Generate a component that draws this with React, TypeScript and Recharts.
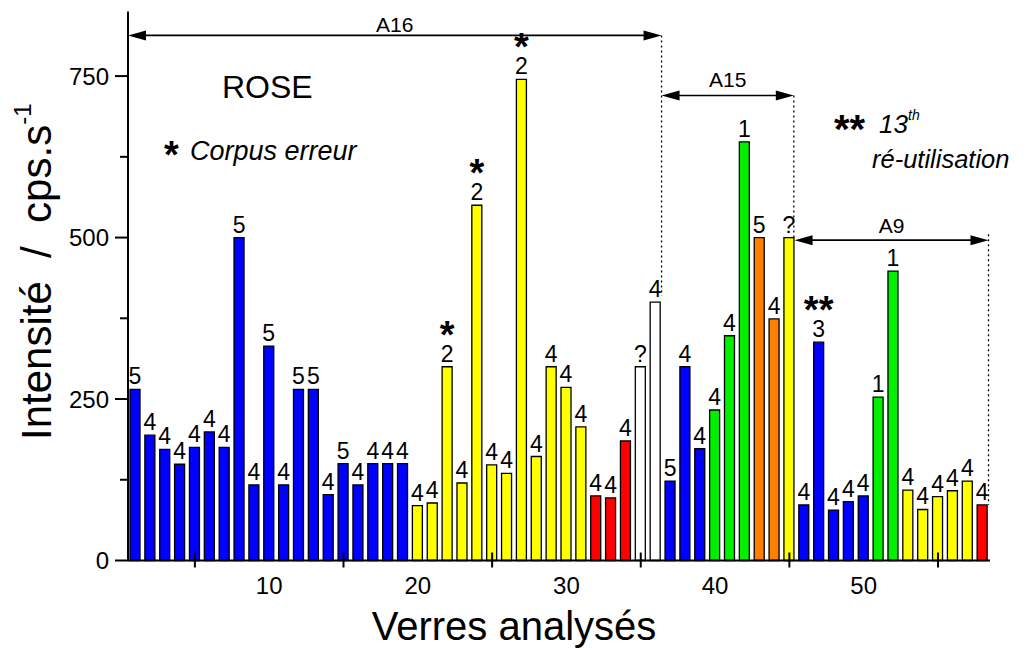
import React from 'react';
import { BarChart, Bar, XAxis, YAxis, Cell, LabelList, ReferenceLine } from 'recharts';

// Glass sample number (x position)
const glassNumbers = [
  1, 2, 3, 4, 5, 6, 7, 8, 9, 10, 11, 12, 13, 14, 15, 16, 17, 18, 19, 20,
  21, 22, 23, 24, 25, 26, 27, 28, 29, 30, 31, 32, 33, 34, 35, 36, 37, 38, 39, 40,
  41, 42, 43, 44, 45, 46, 47, 48, 49, 50, 51, 52, 53, 54, 55, 56, 57, 58,
];

// Intensity (cps.s-1)
const intensities = [
  265, 194, 172, 149, 175, 199, 175, 500, 117, 332, 117, 265, 265, 102, 150, 117, 150, 150, 150,
  85, 89, 300, 120, 550, 148, 135, 745, 161, 300, 268, 207, 100, 97, 185, 300, 400,
  123, 300, 173, 233, 348, 648, 500, 374, 500, 86, 338, 78, 91, 100, 253, 448, 109, 79, 99, 108, 123, 86,
];

// Glass colour class for each bar
const glassClass = [
  'B', 'B', 'B', 'B', 'B', 'B', 'B', 'B', 'B', 'B', 'B', 'B', 'B', 'B', 'B', 'B', 'B', 'B', 'B',
  'Y', 'Y', 'Y', 'Y', 'Y', 'Y', 'Y', 'Y', 'Y', 'Y', 'Y', 'Y', 'R', 'R', 'R', 'W', 'W',
  'B', 'B', 'B', 'G', 'G', 'G', 'O', 'O', 'Y', 'B', 'B', 'B', 'B', 'B', 'G', 'G', 'Y', 'Y', 'Y', 'Y', 'Y', 'R',
];

// Number written above each bar
const barLabels = [
  '5', '4', '4', '4', '4', '4', '4', '5', '4', '5', '4', '5', '5', '4', '5', '4', '4', '4', '4',
  '4', '4', '2', '4', '2', '4', '4', '2', '4', '4', '4', '4', '4', '4', '4', '?', '4',
  '5', '4', '4', '4', '4', '1', '5', '4', '?', '4', '3', '4', '4', '4', '1', '1', '4', '4', '4', '4', '4', '4',
];

// Asterisk marks above labels
const barMarks = [
  '', '', '', '', '', '', '', '', '', '', '', '', '', '', '', '', '', '', '',
  '', '', '*', '', '*', '', '', '*', '', '', '', '', '', '', '', '', '',
  '', '', '', '', '', '', '', '', '', '', '**', '', '', '', '', '', '', '', '', '', '', '',
];

const classColors: Record<string, string> = {
  B: '#0000FF',
  Y: '#FFFF00',
  R: '#FF0000',
  W: '#FFFFFF',
  G: '#00F000',
  O: '#FF8000',
};

const xTicks = [5, 10, 15, 20, 25, 30, 35, 40, 45, 50, 55];
const yTicks = [0, 125, 250, 375, 500, 625, 750];

const data = glassNumbers.map((n, i) => ({
  idx: n,
  value: intensities[i],
  cls: glassClass[i],
  label: barLabels[i],
  mark: barMarks[i],
}));

const FONT = "'Liberation Sans', Arial, sans-serif";

const XTick = (props: any) => {
  const { x, y, payload } = props;
  const v = payload.value;
  if (v % 10 === 0) {
    return (
      <text x={x} y={y + 33} textAnchor="middle" fontSize={24} fontFamily={FONT} fill="#000">
        {v}
      </text>
    );
  }
  return <line x1={x} x2={x} y1={y - 8} y2={y + 7} stroke="#000" strokeWidth={2} />;
};

const YTick = (props: any) => {
  const { x, y, payload } = props;
  const v = payload.value;
  const major = v % 250 === 0;
  return (
    <g>
      <line x1={x - (major ? 13 : 8)} x2={x} y1={y} y2={y} stroke="#000" strokeWidth={2} />
      {major && (
        <text x={x - 19} y={y + 8.5} textAnchor="end" fontSize={24} fontFamily={FONT} fill="#000">
          {v}
        </text>
      )}
    </g>
  );
};

const BarLabel = (props: any) => {
  const { x, y, width, index } = props;
  const d = data[index];
  if (!d) return null;
  const cx = x + width / 2;
  const base = y - 5;
  return (
    <g>
      <text x={cx} y={base} textAnchor="middle" fontSize={23} fontFamily={FONT} fill="#000">
        {d.label}
      </text>
      {d.mark && (
        <text x={cx} y={base - 14} textAnchor="middle" fontSize={38} fontWeight="bold" fontFamily={FONT} fill="#000">
          {d.mark}
        </text>
      )}
    </g>
  );
};

const arrowShape = (p: any) => {
  const { x1, y1, x2, y2 } = p;
  const L = 18;
  const H = 5;
  const a = Math.min(x1, x2);
  const b = Math.max(x1, x2);
  const y = y1;
  return (
    <g>
      <line x1={a + L - 2} x2={b - L + 2} y1={y} y2={y2} stroke="#000" strokeWidth={1.6} />
      <polygon points={`${a},${y} ${a + L},${y - H} ${a + L},${y + H}`} fill="#000" />
      <polygon points={`${b},${y} ${b - L},${y - H} ${b - L},${y + H}`} fill="#000" />
    </g>
  );
};

const arrowLabel = (text: string, offset: number) => ({
  value: text,
  position: 'top' as const,
  offset,
  fontSize: 21,
  fontFamily: FONT,
  fill: '#000',
});

export default function App() {
  return (
    <div style={{ position: 'absolute', left: 0, top: 0, width: 1029, height: 650, background: '#fff' }}>
      <BarChart
        width={1029}
        height={650}
        data={data}
        margin={{ top: 11.5, right: 39, bottom: 39.5, left: 68 }}
      >
        <XAxis
          dataKey="idx"
          type="number"
          domain={[0.5, 58.5]}
          ticks={xTicks}
          interval={0}
          height={50}
          tickSize={0}
          tickMargin={0}
          tick={<XTick />}
          axisLine={{ stroke: '#000', strokeWidth: 2 }}
          tickLine={false}
        />
        <YAxis
          type="number"
          domain={[0, 850]}
          ticks={yTicks}
          interval={0}
          width={60}
          tickSize={0}
          tickMargin={0}
          tick={<YTick />}
          axisLine={{ stroke: '#000', strokeWidth: 2 }}
          tickLine={false}
        />
        <Bar dataKey="value" barSize={10} stroke="#000" strokeWidth={1.3} isAnimationActive={false}>
          {data.map((d, i) => (
            <Cell key={i} fill={classColors[d.cls]} />
          ))}
          <LabelList dataKey="label" content={<BarLabel />} />
        </Bar>
        <ReferenceLine
          segment={[{ x: 0.5, y: 813 }, { x: 36.4, y: 813 }]}
          shape={arrowShape}
          label={arrowLabel('A16', 3)}
        />
        <ReferenceLine
          segment={[{ x: 36.4, y: 720 }, { x: 45.3, y: 720 }]}
          shape={arrowShape}
          label={arrowLabel('A15', 8)}
        />
        <ReferenceLine
          segment={[{ x: 45.35, y: 496 }, { x: 58.4, y: 496 }]}
          shape={arrowShape}
          label={arrowLabel('A9', 7)}
        />
        <ReferenceLine
          segment={[{ x: 36.4, y: 813 }, { x: 36.4, y: 410 }]}
          stroke="#000"
          strokeWidth={1.3}
          strokeDasharray="2 3"
        />
        <ReferenceLine
          segment={[{ x: 45.3, y: 720 }, { x: 45.3, y: 500 }]}
          stroke="#000"
          strokeWidth={1.3}
          strokeDasharray="2 3"
        />
        <ReferenceLine
          segment={[{ x: 58.4, y: 505 }, { x: 58.4, y: 86 }]}
          stroke="#000"
          strokeWidth={1.3}
          strokeDasharray="2 3"
        />
      </BarChart>
      <svg
        width={1029}
        height={650}
        style={{ position: 'absolute', left: 0, top: 0, pointerEvents: 'none' }}
        fontFamily={FONT}
      >
        <text x={222} y={98} fontSize={32} fill="#000">ROSE</text>
        <text x={164} y={168} fontSize={38} fontWeight="bold" fill="#000">*</text>
        <text x={190} y={160} fontSize={27} fontStyle="italic" fill="#000">Corpus erreur</text>
        <text x={834} y={143} fontSize={40} fontWeight="bold" fill="#000">**</text>
        <text x={879} y={133} fontSize={26} fontStyle="italic" fill="#000">13</text>
        <text x={908} y={120} fontSize={14} fontStyle="italic" fill="#000">th</text>
        <text x={872} y={168} fontSize={25.5} fontStyle="italic" fill="#000">ré-utilisation</text>
        <text x={514} y={640} fontSize={40} textAnchor="middle" fill="#000">Verres analysés</text>
        <text transform="translate(51,440) rotate(-90)" fontSize={42} fill="#000">
          {'Intensité\u00A0\u00A0/\u00A0\u00A0cps.s'}
          <tspan fontSize={24} dy={-20}>-1</tspan>
        </text>
      </svg>
    </div>
  );
}
